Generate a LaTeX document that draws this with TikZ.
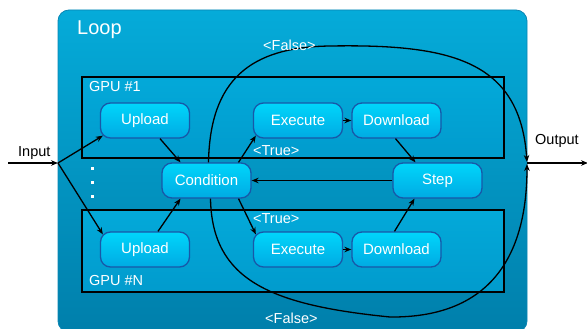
\documentclass[tikz,border=0pt]{standalone}
\usepackage{fontspec}
\setmainfont{Liberation Sans}
\usetikzlibrary{arrows.meta}
\definecolor{loopTop}{HTML}{05ABD9}
\definecolor{loopBot}{HTML}{007FAB}
\definecolor{loopEdge}{HTML}{0A85B3}
\definecolor{gpuTop}{HTML}{03A9D9}
\definecolor{gpuBot}{HTML}{019BCD}
\definecolor{boxTop}{HTML}{00D6FB}
\definecolor{boxBot}{HTML}{00AAE3}
\definecolor{boxEdge}{HTML}{1858A8}
\begin{document}
\begin{tikzpicture}[x=1pt,y=-1pt,
  stage/.style={draw=boxEdge, line width=1.3pt, rounded corners=10pt,
    top color=boxTop, bottom color=boxBot, minimum width=89pt,
    minimum height=35pt, inner sep=0pt, text=white,
    font=\fontsize{15}{17}\selectfont},
  lbl/.style={inner sep=0pt, anchor=base west, text=white,
    font=\fontsize{14.5}{16}\selectfont},
  outer/.style={lbl, text=black},
  gpubox/.style={draw=black, line width=1.4pt, top color=gpuTop, bottom color=gpuBot},
  conn/.style={-{Stealth[length=7pt,width=5.5pt]}, line width=1.3pt},
  dotmark/.style={fill=white}
]
\useasboundingbox (0,0) rectangle (587,329);

% loop container
\path[draw=loopEdge, line width=0.8pt, rounded corners=11pt,
  top color=loopTop, bottom color=loopBot] (58,10) rectangle (527,332);
\node[lbl, font=\fontsize{20}{22}\selectfont] (loopLbl) at (77,35) {Loop};

% GPU groups
\path[gpubox] (82,77) rectangle (504,158);
\path[gpubox] (82,210) rectangle (504,292);
\node[lbl] (gpu1) at (89,92) {GPU \#1};
\node[lbl] (gpuN) at (89,285) {GPU \#N};

% ellipsis between the groups
\foreach \yy in {168,182,196} \path[dotmark] (90.5,\yy-1.5) rectangle (93.5,\yy+1.5);

% junction points of the outer arrows
\coordinate (outA) at (527,162);
\coordinate (outB) at (527,164);
\coordinate (outJ) at (527,163);
\coordinate (outR) at (588,163);
\coordinate (inL) at (8,163);
\coordinate (inJ) at (58,163);

% stages
\node[stage] (up1) at (145,120.5) {Upload};
\node[stage] (ex1) at (298,120.5) {Execute};
\node[stage] (dl1) at (396.5,120.5) {Download};
\node[stage] (cond) at (206.5,180.5) {Condition};
\node[stage] (step) at (437.5,180.5) {Step};
\node[stage] (upN) at (145,249.5) {Upload};
\node[stage] (exN) at (298,249.5) {Execute};
\node[stage] (dlN) at (396.5,249.5) {Download};

% false branch curves
\draw[conn] ([xshift=2pt]cond.north) .. controls (210,80) and (250,47) .. (330,46)
  .. controls (450,44) and (520,60) .. (outA);
\draw[conn] ([xshift=4pt]cond.south) .. controls (212,280) and (270,305) .. (390,317)
  .. controls (495,318) and (527,250) .. (outB);

% branch labels
\node[lbl] (falseTop) at (263,51) {<False>};
\node[lbl] (falseBot) at (265,323) {<False>};
\node[lbl] (trueTop) at (253,155) {<True>};
\node[lbl] (trueBot) at (253,223) {<True>};

% input and output
\node[outer] (inLbl) at (18,156) {Input};
\node[outer] (outLbl) at (535,144) {Output};
\draw[conn] (inL) -- (inJ);
\draw[conn] (inJ) -- ([shift={(3pt,3pt)}]up1.south west);
\draw[conn] (inJ) -- ([shift={(3pt,-3pt)}]upN.north west);
\draw[conn] (outJ) -- (outR);

% flow between stages
\draw[conn] ([xshift=15pt]up1.south) -- ([xshift=-26pt]cond.north);
\draw[conn] ([xshift=32pt]cond.north) -- ([shift={(3pt,3pt)}]ex1.south west);
\draw[conn] (ex1.east) -- (dl1.west);
\draw[conn] ([xshift=-1pt]dl1.south) -- ([xshift=-22pt]step.north);
\draw[conn] (step.west) -- (cond.east);
\draw[conn] ([xshift=32pt]cond.south) -- ([shift={(3pt,-3pt)}]exN.north west);
\draw[conn] ([xshift=13pt]upN.north) -- ([xshift=-26pt]cond.south);
\draw[conn] (exN.east) -- (dlN.west);
\draw[conn] ([xshift=-2pt]dlN.north) -- ([xshift=-23pt]step.south);
\end{tikzpicture}
\end{document}
